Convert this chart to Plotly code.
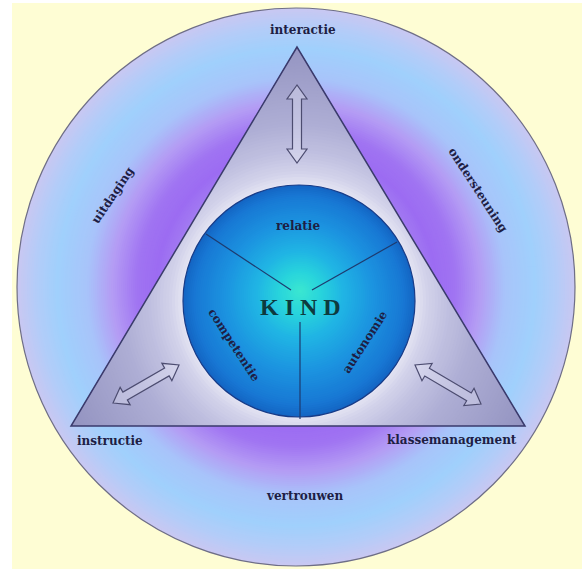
import math
import plotly.graph_objects as go

# ---------------- content ----------------
center_label = "K I N D"
inner_labels = ["relatie", "competentie", "autonomie"]
corner_labels = ["interactie", "instructie", "klassemanagement"]
ring_labels = ["uitdaging", "ondersteuning", "vertrouwen"]

# ---------------- geometry (pixel space) ----------------
W, H = 582, 569
outer_c, outer_r = (296, 287), 279
inner_c, inner_r = (299, 301), 116
glow_c = (300, 291)
tri = [(297, 47), (71, 426), (525, 426)]

inner_pos = [(298, 226, 0), (234, 345, 57), (365, 342, -57)]
corner_pos = [(303, 30, 0), (110, 441, 0), (452, 440, 0)]
ring_pos = [(113, 195, -56), (478, 190, 57), (304, 496, 0)]
kind_pos = (300, 307)

arrow_ends = [((297, 85), (297, 163)), ((113, 403), (179, 365)), ((415, 365), (481, 404))]
divider_lines = [((206, 234), (291, 290)), ((397, 242), (312, 290)), ((300, 322), (300, 419))]

outer_stops = [(0, "#B4A0F4"), (110, "#A888F2"), (140, "#9C6CF2"), (160, "#A074F2"),
               (185, "#B49CF4"), (210, "#A8C4FA"), (240, "#A0D0FC"), (262, "#B4CCF8"),
               (279, "#C8C8F2")]
tri_stops = [(116, "#E6E6F4"), (130, "#D2D2EA"), (150, "#C0C0E0"), (180, "#ADADD4"),
             (220, "#A0A0CA"), (262, "#9292C0")]
inner_stops = [(0, "#3CE8D0"), (22, "#28D4DC"), (45, "#20B4E4"), (75, "#1C94E0"),
               (105, "#1878D4"), (116, "#1466C4")]


def hex2rgb(h):
    h = h.lstrip("#")
    return tuple(int(h[i:i + 2], 16) for i in (0, 2, 4))


def color_at(stops, r):
    if r <= stops[0][0]:
        return "rgb(%d,%d,%d)" % hex2rgb(stops[0][1])
    for (r0, c0), (r1, c1) in zip(stops[:-1], stops[1:]):
        if r0 <= r <= r1:
            t = (r - r0) / (r1 - r0)
            a, b = hex2rgb(c0), hex2rgb(c1)
            return "rgb(%d,%d,%d)" % tuple(round(a[i] + (b[i] - a[i]) * t) for i in range(3))
    return "rgb(%d,%d,%d)" % hex2rgb(stops[-1][1])


def circle_poly(c, r, n=160):
    return [(c[0] + r * math.cos(2 * math.pi * k / n), c[1] + r * math.sin(2 * math.pi * k / n)) for k in range(n)]


def intersect(p, q, a, b):
    x1, y1 = p; x2, y2 = q; x3, y3 = a; x4, y4 = b
    d = (x1 - x2) * (y3 - y4) - (y1 - y2) * (x3 - x4)
    t = ((x1 - x3) * (y3 - y4) - (y1 - y3) * (x3 - x4)) / d
    return (x1 + t * (x2 - x1), y1 + t * (y2 - y1))


def clip(poly, clipper):
    cx = sum(p[0] for p in clipper) / 3
    cy = sum(p[1] for p in clipper) / 3

    def side(a, b, p):
        return (b[0] - a[0]) * (p[1] - a[1]) - (b[1] - a[1]) * (p[0] - a[0])

    out = poly
    for i in range(len(clipper)):
        a, b = clipper[i], clipper[(i + 1) % len(clipper)]
        sgn = 1 if side(a, b, (cx, cy)) > 0 else -1
        inp, out = out, []
        if not inp:
            break
        for j in range(len(inp)):
            p, q = inp[j - 1], inp[j]
            pin = side(a, b, p) * sgn >= 0
            qin = side(a, b, q) * sgn >= 0
            if qin:
                if not pin:
                    out.append(intersect(p, q, a, b))
                out.append(q)
            elif pin:
                out.append(intersect(p, q, a, b))
    return out


def path_of(pts):
    return "M " + " L ".join("%.2f,%.2f" % p for p in pts) + " Z"


def double_arrow(p0, p1, hl=14, hw=10, sw=4.5):
    L = math.hypot(p1[0] - p0[0], p1[1] - p0[1])
    ux, uy = (p1[0] - p0[0]) / L, (p1[1] - p0[1]) / L
    nx, ny = -uy, ux

    def pt(base, along, across):
        return (base[0] + ux * along + nx * across, base[1] + uy * along + ny * across)
    return [p0, pt(p0, hl, hw), pt(p0, hl, sw), pt(p1, -hl, sw), pt(p1, -hl, hw), p1,
            pt(p1, -hl, -hw), pt(p1, -hl, -sw), pt(p0, hl, -sw), pt(p0, hl, -hw)]


shapes = []
# background
shapes.append(dict(type="rect", x0=12, x1=W, y0=3, y1=H, fillcolor="#FEFDD4", line_width=0, layer="below"))

# outer circle radial gradient
r = outer_r
first = True
while r > 90:
    shapes.append(dict(type="circle", x0=outer_c[0] - r, x1=outer_c[0] + r, y0=outer_c[1] - r, y1=outer_c[1] + r,
                       fillcolor=color_at(outer_stops, r),
                       line=dict(color="#6E6E86", width=1.2) if first else dict(width=0)))
    first = False
    r -= 2

# triangle gradient
r = 262
while r >= 112:
    poly = clip(circle_poly(inner_c, r), tri)
    if len(poly) >= 3:
        shapes.append(dict(type="path", path=path_of(poly), fillcolor=color_at(tri_stops, r), line_width=0))
    r -= 3
shapes.append(dict(type="path", path=path_of(tri), fillcolor="rgba(0,0,0,0)", line=dict(color="#3A3A6C", width=1.5)))

# arrows
for p0, p1 in arrow_ends:
    shapes.append(dict(type="path", path=path_of(double_arrow(p0, p1)), fillcolor="rgba(236,236,250,0.35)",
                       line=dict(color="#4C4C70", width=1.2)))

# inner circle gradient
r = inner_r
first = True
while r > 0:
    t = r / inner_r
    cx = glow_c[0] + (inner_c[0] - glow_c[0]) * t
    cy = glow_c[1] + (inner_c[1] - glow_c[1]) * t
    shapes.append(dict(type="circle", x0=cx - r, x1=cx + r, y0=cy - r, y1=cy + r,
                       fillcolor=color_at(inner_stops, r),
                       line=dict(color="#183C88", width=1.2) if first else dict(width=0)))
    first = False
    r -= 2

for (a, b) in divider_lines:
    shapes.append(dict(type="line", x0=a[0], y0=a[1], x1=b[0], y1=b[1], line=dict(color="#1E3A6E", width=1.2)))

annotations = []
font_small = dict(family="DejaVu Serif", size=12, color="#1E1E44")
for labels, pos in ((inner_labels, inner_pos), (corner_labels, corner_pos), (ring_labels, ring_pos)):
    for txt, (x, y, ang) in zip(labels, pos):
        annotations.append(dict(x=x, y=y, text="<b>%s</b>" % txt, showarrow=False, textangle=ang,
                                xanchor="center", yanchor="middle", font=font_small))
annotations.append(dict(x=kind_pos[0], y=kind_pos[1], text="<b>%s</b>" % center_label, showarrow=False,
                        xanchor="center", yanchor="middle",
                        font=dict(family="Liberation Serif", size=24, color="#0E3A3E")))

fig = go.Figure()
fig.add_trace(go.Scatter(x=[0, W], y=[0, H], mode="markers", marker=dict(opacity=0), hoverinfo="skip",
                         showlegend=False))
fig.update_layout(width=W, height=H, margin=dict(l=0, r=0, t=0, b=0),
                  paper_bgcolor="white", plot_bgcolor="white",
                  xaxis=dict(range=[0, W], visible=False, fixedrange=True),
                  yaxis=dict(range=[H, 0], visible=False, fixedrange=True),
                  shapes=shapes, annotations=annotations, showlegend=False)
fig.write_html("out.html", config={"displayModeBar": False},
               post_script="document.body.style.margin='0';document.body.style.overflow='hidden';")
